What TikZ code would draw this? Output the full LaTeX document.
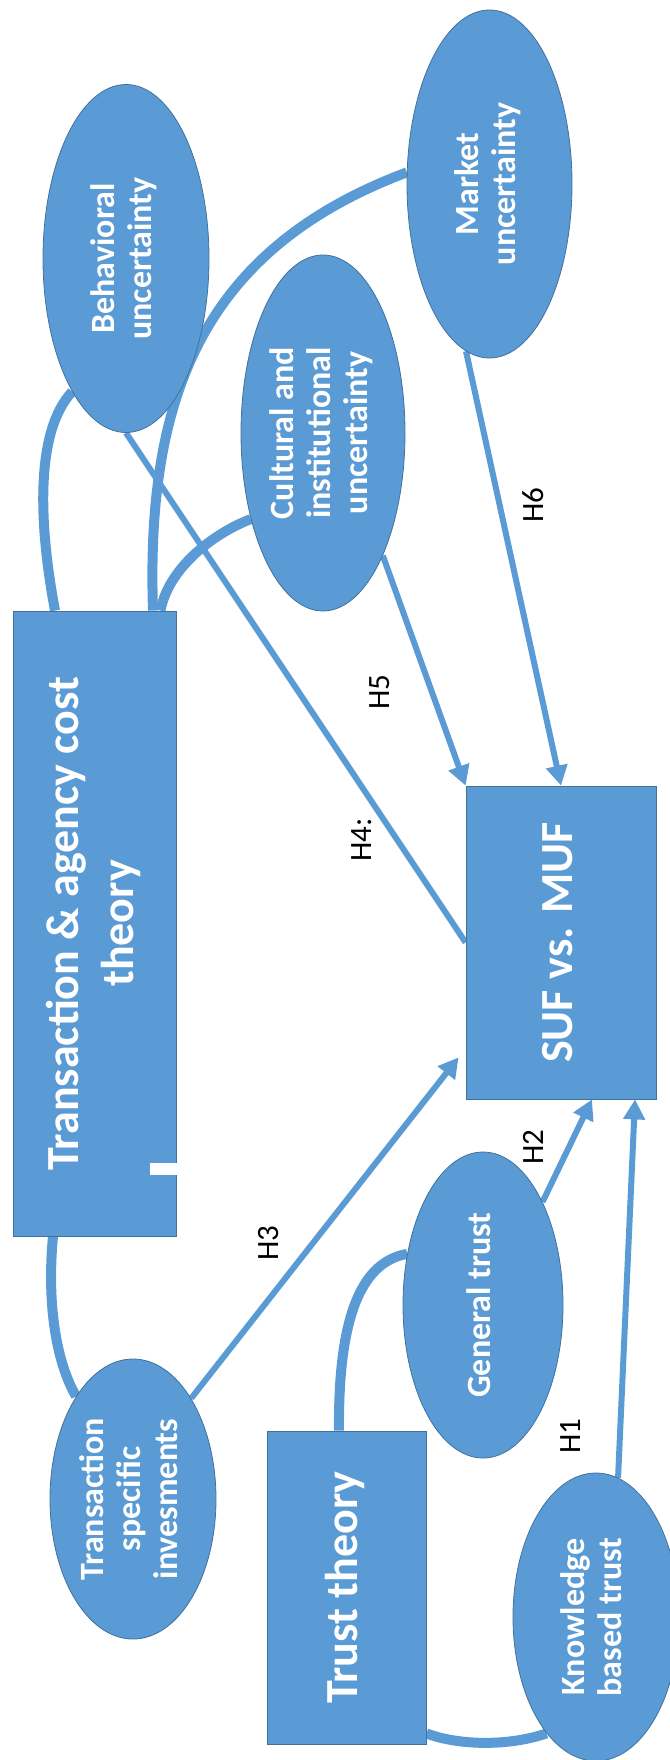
\documentclass[tikz,border=0pt]{standalone}
\usepackage{graphicx}
\usepackage{fontspec}
\setmainfont{Carlito}
\usetikzlibrary{arrows.meta,shapes.geometric}
\definecolor{boxblue}{HTML}{5B9BD5}
\definecolor{edgeblue}{HTML}{41719C}
\pgfdeclarelayer{bg}
\pgfsetlayers{bg,main}
\newcommand{\uptext}[1]{\rotatebox{90}{\begin{tabular}{@{}c@{}}#1\end{tabular}}}
\tikzset{
  ovalnode/.style={ellipse, fill=boxblue, draw=edgeblue, line width=0.8pt,
    inner sep=0pt, text=white, font=\fontsize{34}{37}\selectfont\bfseries},
  boxnode/.style={rectangle, fill=boxblue, draw=edgeblue, line width=0.8pt,
    inner sep=0pt, text=white, font=\fontsize{46}{55}\selectfont\bfseries},
  tie/.style={draw=boxblue, line width=10pt},
  link/.style={draw=boxblue, line width=6pt, -{Triangle[length=20pt,width=21pt]}},
  plainlink/.style={draw=boxblue, line width=6pt},
  hyp/.style={font=\fontsize{31}{31}\selectfont, text=black, rotate=90, inner sep=0pt}
}
\begin{document}
\begin{tikzpicture}[x=1pt,y=-1pt]
\useasboundingbox (0,0) rectangle (669,1760);

% theory boxes and outcome box
\node[boxnode, minimum width=163pt, minimum height=625pt] (tac) at (94.5,923.5)
  {\uptext{Transaction \& agency cost\\theory}};
\node[boxnode, minimum width=190pt, minimum height=313pt] (suf) at (561,942.5)
  {\uptext{SUF vs. MUF}};
\node[boxnode, minimum width=159pt, minimum height=313pt] (trust) at (346.5,1587.5)
  {\uptext{Trust theory}};

% constructs
\node[ovalnode, minimum width=166pt, minimum height=348pt] (beh) at (126,258.5)
  {\uptext{Behavioral\\uncertainty}};
\node[ovalnode, minimum width=165pt, minimum height=348pt] (mkt) at (489.5,184)
  {\uptext{Market\\uncertainty}};
\node[ovalnode, minimum width=164pt, minimum height=356pt] (cul) at (323,433)
  {\uptext{Cultural and\\institutional\\uncertainty}};
\node[ovalnode, minimum width=166pt, minimum height=280pt] (tsi) at (133,1499)
  {\uptext{Transaction\\specific\\invesments}};
\node[ovalnode, minimum width=160pt, minimum height=306pt] (gen) at (483,1305)
  {\uptext{General trust}};
\node[ovalnode, minimum width=166pt, minimum height=288pt] (kno) at (596,1617)
  {\uptext{Knowledge\\based trust}};

% white cut on the right edge of the theory box
\fill[white] (150,1163) rectangle (177.5,1175);

% hypothesis labels
\node[hyp] (h6) at (533,505) {H6};
\node[hyp] (h5) at (380,692) {H5};
\node[hyp] (h4) at (362,840) {H4:};
\node[hyp] (h3) at (269,1243) {H3};
\node[hyp] (h2) at (533,1147) {H2};
\node[hyp] (h1) at (570.5,1436) {H1};

\begin{pgfonlayer}{bg}
  % theory ties
  \draw[tie] ([xshift=-39.5pt]tac.north) .. controls (38,520) and (36,430) .. (beh.248);
  \draw[tie] ([xshift=58.5pt]tac.north) .. controls (146,400) and (200,250) .. (mkt.172);
  \draw[tie] ([xshift=66pt]tac.north) .. controls (168,570) and (210,535) .. (cul.230);
  \draw[tie] ([xshift=-41.5pt]tac.south) .. controls (47,1300) and (55,1360) .. (tsi.119);
  \draw[tie] ([xshift=-7.5pt]trust.north) .. controls (338,1320) and (360,1262) .. (gen.146);
  \draw[tie] ([yshift=11pt]trust.south east) .. controls (460,1746) and (510,1746) .. (kno.247);
  % hypotheses
  \draw[plainlink] (beh.south) -- (suf.west);
  \draw[link] (cul.296) -- (suf.north west);
  \draw[link] (mkt.262) -- (suf.north);
  \draw[link] (tsi.60) -- ([shift={(-7pt,42pt)}]suf.south west);
  \draw[link] (gen.60) -- ([xshift=31pt]suf.south);
  \draw[link] (kno.81) -- ([xshift=74pt]suf.south);
\end{pgfonlayer}
\end{tikzpicture}
\end{document}
